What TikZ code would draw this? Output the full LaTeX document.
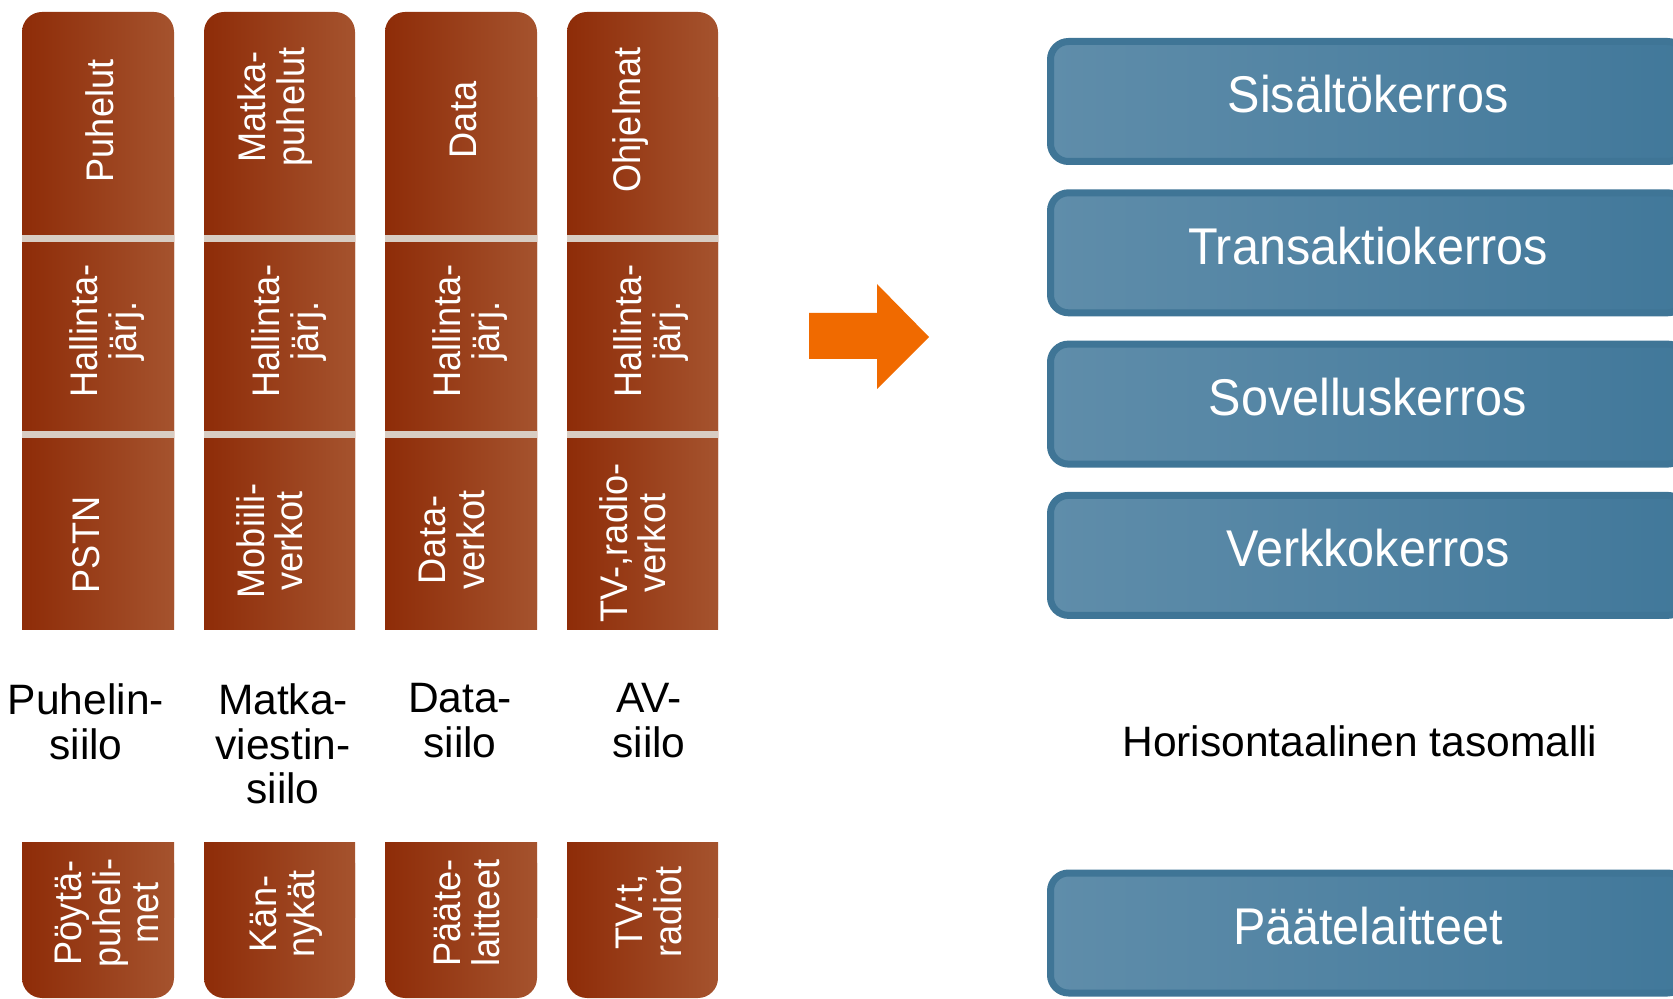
\documentclass[tikz,border=0pt]{standalone}
\usepackage{fontspec}
\setmainfont{Liberation Sans}[FakeStretch=0.94]
\newfontfamily\labelfont{Liberation Sans}
\definecolor{siloleft}{RGB}{142,44,8}
\definecolor{siloright}{RGB}{165,83,46}
\definecolor{siloline}{RGB}{216,205,195}
\definecolor{layerline}{RGB}{63,117,150}
\definecolor{layerleft}{RGB}{95,141,170}
\definecolor{layerright}{RGB}{65,120,154}
\definecolor{arroworange}{RGB}{240,106,0}

\begin{document}
\begin{tikzpicture}[
  silo/.style={left color=siloleft, right color=siloright},
  silotext/.style={rotate=90, text=white, align=center, inner sep=0pt, font=\fontsize{10.95}{10.9}\selectfont},
  silolabel/.style={anchor=north, inner sep=0pt, align=center, font=\labelfont\fontsize{12.1}{12.66}\selectfont},
  layer/.style={draw=layerline, line width=0.07cm, rounded corners=0.18cm, left color=layerleft, right color=layerright,
    minimum width=6.35cm, minimum height=1.2cm, inner sep=0pt, text=white, text height=0.3cm, text depth=0.07cm,
    font=\fontsize{14.7}{17}\selectfont}]
  \useasboundingbox (0,0) rectangle (16.73,9.98);
  \clip (0,0) rectangle (16.73,9.98);

  % siilot
  \shade[silo, rounded corners=0.2cm] (0.22,3.68) rectangle (1.74,9.86);
  \shade[silo] (0.22,3.68) rectangle (1.74,9.0);
  \shade[silo, rounded corners=0.2cm] (2.04,3.68) rectangle (3.55,9.86);
  \shade[silo] (2.04,3.68) rectangle (3.55,9.0);
  \shade[silo, rounded corners=0.2cm] (3.85,3.68) rectangle (5.37,9.86);
  \shade[silo] (3.85,3.68) rectangle (5.37,9.0);
  \shade[silo, rounded corners=0.2cm] (5.67,3.68) rectangle (7.18,9.86);
  \shade[silo] (5.67,3.68) rectangle (7.18,9.0);
  \fill[siloline] (0.22,7.555) rectangle (1.74,7.63);
  \fill[siloline] (2.04,7.555) rectangle (3.55,7.63);
  \fill[siloline] (3.85,7.555) rectangle (5.37,7.63);
  \fill[siloline] (5.67,7.555) rectangle (7.18,7.63);
  \fill[siloline] (0.22,5.595) rectangle (1.74,5.67);
  \fill[siloline] (2.04,5.595) rectangle (3.55,5.67);
  \fill[siloline] (3.85,5.595) rectangle (5.37,5.67);
  \fill[siloline] (5.67,5.595) rectangle (7.18,5.67);

  % laitteet
  \shade[silo, rounded corners=0.2cm] (0.22,0) rectangle (1.74,1.55);
  \shade[silo] (0.22,0.8) rectangle (1.74,1.55);
  \shade[silo, rounded corners=0.2cm] (2.04,0) rectangle (3.55,1.55);
  \shade[silo] (2.04,0.8) rectangle (3.55,1.55);
  \shade[silo, rounded corners=0.2cm] (3.85,0) rectangle (5.37,1.55);
  \shade[silo] (3.85,0.8) rectangle (5.37,1.55);
  \shade[silo, rounded corners=0.2cm] (5.67,0) rectangle (7.18,1.55);
  \shade[silo] (5.67,0.8) rectangle (7.18,1.55);

  \node[silotext] (puhelut) at (1.0,8.77) {Puhelut};
  \node[silotext] (matkapuhelut) at (2.75,8.91) {Matka-\\puhelut};
  \node[silotext] (data) at (4.63,8.78) {Data};
  \node[silotext] (ohjelmat) at (6.31,8.78) {Ohjelmat};
  \node[silotext] (hallinta1) at (1.07,6.67) {Hallinta-\\järj.};
  \node[silotext] (hallinta2) at (2.89,6.67) {Hallinta-\\järj.};
  \node[silotext] (hallinta3) at (4.70,6.67) {Hallinta-\\järj.};
  \node[silotext] (hallinta4) at (6.51,6.67) {Hallinta-\\järj.};
  \node[silotext] (pstn) at (0.86,4.53) {PSTN};
  \node[silotext] (mobiili) at (2.70,4.57) {Mobiili-\\verkot};
  \node[silotext] (dataverkot) at (4.52,4.58) {Data-\\verkot};
  \node[silotext] (tvverkot) at (6.33,4.55) {TV-,radio-\\verkot};
  \node[silotext] (poyta) at (1.07,0.85) {Pöytä-\\puheli-\\met};
  \node[silotext] (kannykat) at (2.86,0.84) {Kän-\\nykät};
  \node[silotext] (paate) at (4.67,0.85) {Pääte-\\laitteet};
  \node[silotext] (tvt) at (6.49,0.86) {TV:t,\\radiot};

  \node[silolabel] (puhelinsiilo) at (0.86,3.15) {Puhelin-\\siilo};
  \node[silolabel] (matkasiilo) at (2.83,3.15) {Matka-\\viestin-\\siilo};
  \node[silolabel] (datasiilo) at (4.60,3.15) {Data-\\siilo};
  \node[silolabel] (avsiilo) at (6.49,3.15) {AV-\\siilo};

  % nuoli
  \fill[arroworange] (8.09,6.85) -- (8.77,6.85) -- (8.77,7.14) -- (9.29,6.61) -- (8.77,6.09) -- (8.77,6.39) -- (8.09,6.39) -- cycle;

  % kerrokset
  \node[layer] (sisalto) at (13.68,8.965) {Sisältökerros};
  \node[layer] (transaktio) at (13.68,7.452) {Transaktiokerros};
  \node[layer] (sovellus) at (13.68,5.939) {Sovelluskerros};
  \node[layer] (verkko) at (13.68,4.426) {Verkkokerros};
  \node[layer] (paatelaitteet) at (13.68,0.65) {Päätelaitteet};
  \node[font=\labelfont\fontsize{12.1}{14}\selectfont] (tasomalli) at (13.6,2.57) {Horisontaalinen tasomalli};
\end{tikzpicture}
\end{document}
